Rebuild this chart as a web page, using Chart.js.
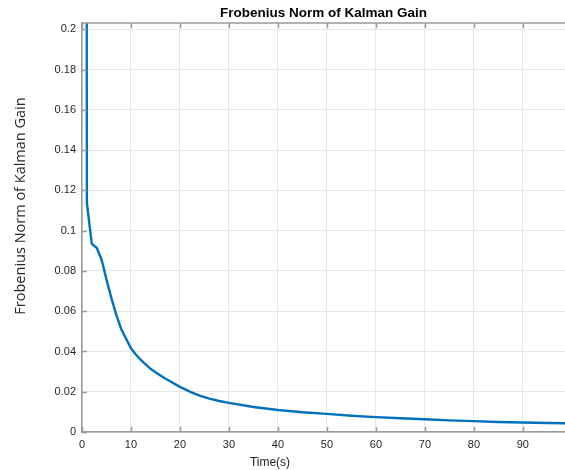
<!DOCTYPE html>
<html lang="en">
  <head>
    <meta charset="UTF-8" />
    <script src="https://cdn.jsdelivr.net/npm/chart.js"></script>
    <title>Frobenius Norm of Kalman Gain</title>
    <style>
      html,
      body {
        margin: 0;
        padding: 0;
        background: #fff;
      }
      #wrap {
        width: 565px;
        height: 470px;
      }
    </style>
  </head>
  <body>
    <div id="wrap"><canvas id="myChart" width="565" height="470"></canvas></div>
  </body>
</html>
<script>
  // values
  const timeSteps = [
    0, 1, 2, 3, 4, 5, 6, 7, 8, 9, 10, 11, 12, 13, 14, 15, 16, 17, 18, 19, 20,
    22, 24, 26, 28, 30, 35, 40, 45, 50, 55, 60, 65, 70, 75, 80, 85, 90, 95, 99,
  ];
  const gainNorm = [
    3.0, 0.1137, 0.0935, 0.0915, 0.0856, 0.0757, 0.0665, 0.0582, 0.0512,
    0.0463, 0.0416, 0.0385, 0.0358, 0.0336, 0.0314, 0.0297, 0.0281, 0.0266,
    0.0252, 0.0238, 0.0224, 0.0201, 0.0181, 0.0166, 0.0154, 0.0145, 0.0124,
    0.0109, 0.0098, 0.009, 0.0081, 0.0074, 0.0068, 0.0063, 0.0058, 0.0054,
    0.005, 0.0047, 0.0045, 0.0043,
  ];
  const xTicks = [0, 10, 20, 30, 40, 50, 60, 70, 80, 90];
  const yTicks = [0, 0.02, 0.04, 0.06, 0.08, 0.1, 0.12, 0.14, 0.16, 0.18, 0.2];

  const chartTitle = "Frobenius Norm of Kalman Gain";
  const xLabel = "Time(s)";
  const yLabel = "Frobenius Norm of Kalman Gain";

  const textColor = "#262626";
  const axisColor = "#9a9a9a";

  // matlab style: ticks pointing inward, top border, labels
  const matlabAxes = {
    id: "matlabAxes",
    afterDraw(chart) {
      const ctx = chart.ctx;
      const a = chart.chartArea;
      const xs = chart.scales.x;
      const ys = chart.scales.y;
      ctx.save();
      ctx.strokeStyle = axisColor;
      ctx.lineWidth = 1.5;
      ctx.beginPath();
      ctx.moveTo(a.left, a.top);
      ctx.lineTo(a.right, a.top);
      xTicks.forEach((v) => {
        const px = Math.round(xs.getPixelForValue(v)) + 0.5;
        ctx.moveTo(px, a.bottom);
        ctx.lineTo(px, a.bottom - 5);
        ctx.moveTo(px, a.top);
        ctx.lineTo(px, a.top + 5);
      });
      yTicks.forEach((v) => {
        const py = Math.round(ys.getPixelForValue(v)) + 0.5;
        ctx.moveTo(a.left, py);
        ctx.lineTo(a.left + 5, py);
      });
      ctx.stroke();

      ctx.fillStyle = "#000";
      ctx.font = "bold 13.5px 'Liberation Sans', Arial, sans-serif";
      ctx.textAlign = "center";
      ctx.textBaseline = "middle";
      ctx.fillText(chartTitle, (a.left + a.right) / 2, 13);

      ctx.fillStyle = textColor;
      ctx.font = "12px 'Liberation Sans', Arial, sans-serif";
      ctx.fillText(xLabel, 270, 463);

      ctx.translate(21, 206);
      ctx.rotate(-Math.PI / 2);
      ctx.font = "14.5px 'Open Sans', sans-serif";
      ctx.fillText(yLabel, 0, 0);
      ctx.restore();
    },
  };

  const ctx = document.getElementById("myChart").getContext("2d");
  const myChart = new Chart(ctx, {
    type: "line",
    data: {
      datasets: [
        {
          label: yLabel,
          data: timeSteps.map((t, i) => ({ x: t, y: gainNorm[i] })),
          borderColor: "#0072BD",
          borderWidth: 2.4,
          pointRadius: 0,
          tension: 0,
          fill: false,
          clip: 0,
        },
      ],
    },
    options: {
      responsive: false,
      animation: false,
      layout: { padding: { top: 23, right: 0, left: 0, bottom: 0 } },
      plugins: {
        legend: { display: false },
        tooltip: { enabled: false },
      },
      scales: {
        x: {
          type: "linear",
          min: 0,
          max: 98.6,
          afterFit(scale) {
            scale.height = 38;
          },
          afterBuildTicks(scale) {
            scale.ticks = xTicks.map((v) => ({ value: v }));
          },
          ticks: {
            padding: 6,
            color: textColor,
            font: { family: "'Liberation Sans', Arial, sans-serif", size: 11 },
            maxRotation: 0,
          },
          grid: { color: "#e6e6e6", drawTicks: false },
          border: { color: axisColor, width: 1.5 },
        },
        y: {
          min: 0,
          max: 0.2032,
          afterFit(scale) {
            scale.width = 82;
          },
          afterBuildTicks(scale) {
            scale.ticks = yTicks.map((v) => ({ value: v }));
          },
          ticks: {
            padding: 6,
            color: textColor,
            font: { family: "'Liberation Sans', Arial, sans-serif", size: 11 },
            callback: (v) => String(+v.toFixed(2)),
          },
          grid: { color: "#e6e6e6", drawTicks: false },
          border: { color: axisColor, width: 1.5 },
        },
      },
    },
    plugins: [matlabAxes],
  });
</script>
